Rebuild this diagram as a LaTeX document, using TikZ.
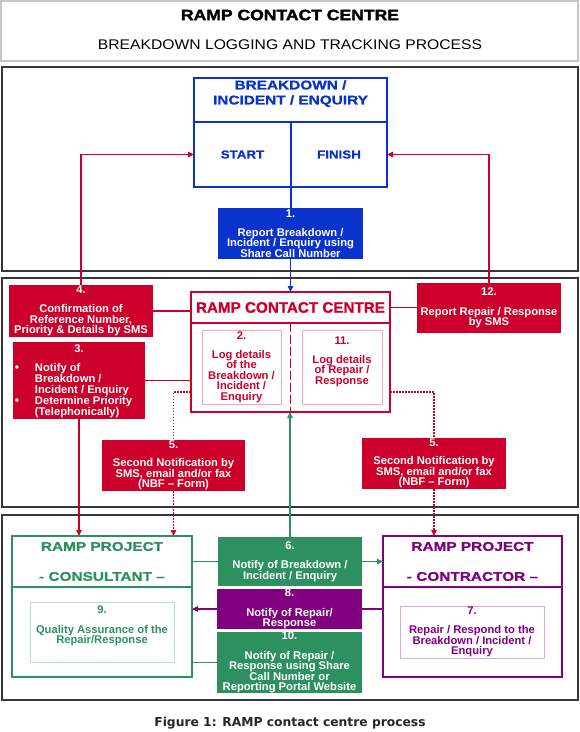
\documentclass[tikz,border=0pt]{standalone}
\usepackage{fontspec}
\setmainfont{Liberation Sans}
\newfontfamily\bxfam{Liberation Sans}
\newfontfamily\ccfam{Liberation Sans}[FakeBold=0.8]
\newfontfamily\hdfam{Liberation Sans}[FakeStretch=1.22,FakeBold=1.2]
\newfontfamily\stfam{Liberation Sans}[FakeStretch=1.15,FakeBold=0.8]
\newfontfamily\subfam{Liberation Sans}[FakeStretch=1.12]
\newfontfamily\tifam{Liberation Sans}[FakeStretch=1.17,FakeBold=2]
\newfontfamily\capfam{DejaVu Sans}
\usetikzlibrary{arrows.meta,calc}
\definecolor{rred}{RGB}{204,0,42}
\definecolor{rblue}{RGB}{10,50,205}
\definecolor{rgreen}{RGB}{45,145,95}
\definecolor{rpurple}{RGB}{128,0,128}
\definecolor{lpink}{RGB}{240,170,185}
\definecolor{lgreen}{RGB}{190,225,205}
\definecolor{lpurple}{RGB}{215,170,215}
\definecolor{pgray}{RGB}{55,55,55}
\newcommand\bx[6]{\node[#1,minimum width={#4-#2},minimum height={#5-#3}] (#6) at ({(#2+#4)/2},{(#3+#5)/2})}
\newcommand\bul{\makebox[20pt][l]{\fontsize{12}{12}\selectfont\textbullet}}
\tikzset{
  base/.style={inner sep=0pt,outer sep=0pt,align=center},
  bt/.style={base,font=\bxfam\bfseries\fontsize{11.2}{10.6}\selectfont},
  hd/.style={base,font=\hdfam\bfseries\fontsize{12.6}{15}\selectfont},
  panel/.style={base,draw=pgray,line width=1.6pt},
  hdrbox/.style={base,draw=gray!45,line width=1.5pt},
  bluebox/.style={base,draw=rblue,line width=1.6pt,text=rblue,font=\stfam\bfseries\fontsize{11.6}{12}\selectfont},
  fillbox/.style={bt,fill=#1,text=white},
  redline/.style={base,draw=rred,line width=1.6pt,text=rred},
  greenline/.style={hd,draw=rgreen,line width=1.6pt,text=rgreen},
  purpleline/.style={hd,draw=rpurple,line width=1.6pt,text=rpurple},
  inbox/.style={bt,draw=#1,line width=0.9pt},
  conn/.style={line width=1.3pt},
  tip/.style={-{Triangle[length=6pt,width=5.5pt]}},
  dots/.style={conn,draw=rred,line width=1.1pt,dash pattern=on 1.6pt off 1.4pt},
}
\begin{document}
\begin{tikzpicture}[x=1pt,y=-1pt]
\useasboundingbox (0,0) rectangle (580,732);
% header
\bx{hdrbox}{1}{1}{578}{61}{hdr} {};
\node[base,font=\tifam\bfseries\fontsize{15}{15}\selectfont] (t1) at (290,15) {RAMP CONTACT CENTRE};
\node[base,font=\subfam\fontsize{14}{14}\selectfont] (t2) at (290,45) {BREAKDOWN LOGGING AND TRACKING PROCESS};
% panels
\bx{panel}{2}{67}{578}{271}{p1} {};
\bx{panel}{2}{278}{578}{507}{p2} {};
\bx{panel}{2}{515}{578}{700}{p3} {};
% top box
\bx{bluebox}{194}{78}{387}{122}{tbh} {};
\node[hd,text=rblue] (tbht) at (290.5,93.6) {BREAKDOWN /\\INCIDENT / ENQUIRY};
\bx{bluebox}{194}{122}{291}{187}{tbs} {START};
\bx{bluebox}{291}{122}{387}{187}{tbf} {FINISH};
\bx{fillbox=rblue}{218}{208}{363}{259}{b1} {1.\\[8.5pt]Report Breakdown /\\Incident / Enquiry using\\Share Call Number};
% contact centre
\bx{redline,font=\ccfam\bfseries\fontsize{15.2}{15}\selectfont}{191}{292}{390}{323}{cch} {RAMP CONTACT CENTRE};
\bx{redline}{191}{323}{390}{412}{ccb} {};
\draw[rred,line width=1.6pt,dash pattern=on 9pt off 3pt] (cch.south) -- (ccb.south);
\bx{inbox=lpink,text=rred}{202}{330}{281}{404}{b2} {2.\\[8.5pt]Log details\\of the\\Breakdown /\\Incident /\\Enquiry};
\bx{inbox=lpink}{302}{330}{382}{404}{b11} {};
\node[bt,text=rred] (t11) at (342,361.5) {11.\\[8.5pt]Log details\\of Repair /\\Response};
% red boxes
\bx{fillbox=rred}{9}{285}{153}{337}{b4} {4.\\[8.5pt]Confirmation of\\Reference Number,\\Priority \& Details by SMS};
\bx{fillbox=rred}{13}{342}{145}{419}{b3} {};
\node[bt,text=white] (t3) at (79,349) {3.};
\node[bt,text=white,anchor=north west,align=left,font=\bxfam\bfseries\fontsize{11.2}{11}\selectfont] (t3l) at (15,363.5)
  {\bul Notify of\\
   \hspace*{20pt}Breakdown /\\
   \hspace*{20pt}Incident / Enquiry\\
   \bul Determine Priority\\
   \hspace*{20pt}(Telephonically)};
\bx{fillbox=rred}{417}{283}{561}{333}{b12} {12.\\[8.5pt]Report Repair / Response\\by SMS};
\bx{fillbox=rred}{102}{440}{245}{491}{b5l} {5.\\[7.5pt]Second Notification by\\SMS, email and/or fax\\(NBF – Form)};
\bx{fillbox=rred}{362}{438}{506}{489}{b5r} {5.\\[7.5pt]Second Notification by\\SMS, email and/or fax\\(NBF – Form)};
% bottom boxes
\bx{greenline}{12}{536}{192}{587}{consh} {RAMP PROJECT\\[15pt]- CONSULTANT –};
\bx{greenline}{12}{587}{192}{677}{consb} {};
\bx{inbox=lgreen}{30}{602}{174}{662}{b9} {};
\node[bt,text=rgreen] (t9) at (102,626) {9.\\[9pt]Quality Assurance of the\\Repair/Response};
\bx{purpleline}{383}{536}{562}{587}{conth} {RAMP PROJECT\\[15pt]- CONTRACTOR –};
\bx{purpleline}{383}{587}{562}{677}{contb} {};
\bx{inbox=lpurple,text=rpurple}{400}{606}{544}{658}{b7} {7.\\[8.5pt]Repair / Respond to the\\Breakdown / Incident /\\Enquiry};
\bx{fillbox=rgreen}{218}{537}{362}{586}{b6} {6.\\[8.5pt]Notify of Breakdown /\\Incident / Enquiry};
\bx{fillbox=rpurple}{217}{589}{362}{629}{b8} {8.\\[8.5pt]Notify of Repair/\\Response};
\bx{fillbox=rgreen}{217}{632}{362}{693}{b10} {10.\\[9pt]Notify of Repair /\\Response using Share\\Call Number or\\Reporting Portal Website};
% caption
\node[base,font=\capfam\bfseries\fontsize{12.3}{12}\selectfont,text=black!85] (cap) at (290,723) {Figure 1: RAMP contact centre process};
% connectors
\draw[conn,rblue] (tbs.north east) -- (tbs.north east |- b1.north);
\draw[conn,rblue,tip] (b1.south) -- (b1.south |- cch.north);
\draw[conn,rred,tip] (b4.north) |- (tbs.west);
\draw[conn,rred,tip] (b12.north) |- (tbf.east);
\draw[conn,rred] (b4.east) -- (b4.east -| cch.west);
\draw[conn,rred] (cch.east) -- (cch.east -| b12.west);
\draw[conn,rred] (b3.east) -- (b3.east -| ccb.west);
\draw[conn,rred,tip] (b3.south) -- (b3.south |- consh.north);
\draw[dots] ($(ccb.south west)+(0,-20)$) -| (b5l.north);
\draw[dots,tip] (b5l.south) -- (b5l.south |- consh.north);
\draw[dots] ($(ccb.south east)+(0,-20)$) -| (b5r.north);
\draw[dots,tip] (b5r.south) -- (b5r.south |- conth.north);
\draw[conn,rgreen,tip] (b6.north) -- (b6.north |- ccb.south);
\draw[conn,rgreen] (consh.east) -- (consh.east -| b6.west);
\draw[conn,rgreen,tip] (b6.east) -- (b6.east -| conth.west);
\draw[conn,rpurple] (b8.east -| contb.west) -- (b8.east);
\draw[conn,rpurple,tip] (b8.west) -- (b8.west -| consb.east);
\draw[conn,rgreen] (b10.west) -- (b10.west -| consb.east);
\end{tikzpicture}
\end{document}
